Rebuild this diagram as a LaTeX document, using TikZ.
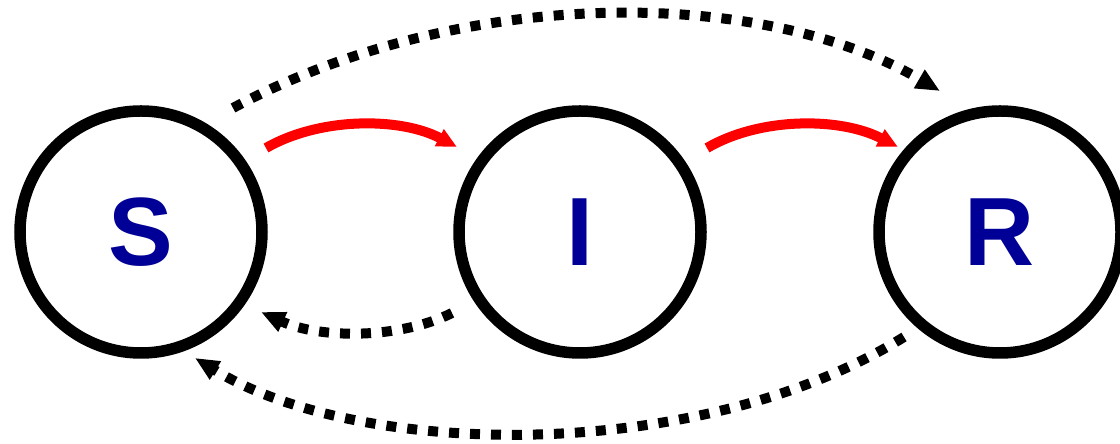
\documentclass[tikz,border=0pt]{standalone}
\usepackage{fontspec}
\setmainfont{Liberation Sans}
\usetikzlibrary{arrows.meta,calc}
\definecolor{lettblue}{RGB}{0,0,150}
\tikzset{
  state/.style={circle,draw=black,line width=11.5pt,minimum size=242pt,inner sep=0pt,
    font=\fontsize{97}{97}\selectfont\bfseries,text=lettblue},
  flow/.style={draw=red,line width=10pt,-{Triangle[length=20pt,width=18pt]}},
  back/.style={draw=black,line width=10pt,dash pattern=on 10pt off 11pt,-{Triangle[length=24pt,width=20pt]}}
}
\begin{document}
\begin{tikzpicture}[x=1pt,y=1pt]
\useasboundingbox (0,0) rectangle (1120,444);
\node[state] (S) at (141,212) {S};
\node[state] (I) at (580,212) {I};
\node[state] (R) at (1000,212) {R};
% endpoints
\coordinate (sTop) at ([shift={(92pt,124pt)}]S.center);
\coordinate (rTop) at ([shift={(-60pt,141pt)}]R.center);
\coordinate (sRed) at ([shift={(125pt,84pt)}]S.center);
\coordinate (iRedIn) at ([shift={(-123pt,85pt)}]I.center);
\coordinate (iRed) at ([shift={(127pt,84pt)}]I.center);
\coordinate (rRedIn) at ([shift={(-102pt,85pt)}]R.center);
\coordinate (iLow) at ([shift={(-128pt,-81pt)}]I.center);
\coordinate (sLow) at ([shift={(120pt,-80pt)}]S.center);
\coordinate (rLow) at ([shift={(-96pt,-105pt)}]R.center);
\coordinate (sBot) at ([shift={(54pt,-126pt)}]S.center);
% connectors
\draw[back] (sTop) .. controls (460,458) and (760,458) .. (rTop);
\draw[flow] (sRed) .. controls (320,327) and (400,327) .. (iRedIn);
\draw[flow] (iRed) .. controls (760,327) and (840,327) .. (rRedIn);
\draw[back] (iLow) .. controls (400,105) and (320,105) .. (sLow);
\draw[back] (rLow) .. controls (700,-20) and (360,-15) .. (sBot);
\end{tikzpicture}
\end{document}
